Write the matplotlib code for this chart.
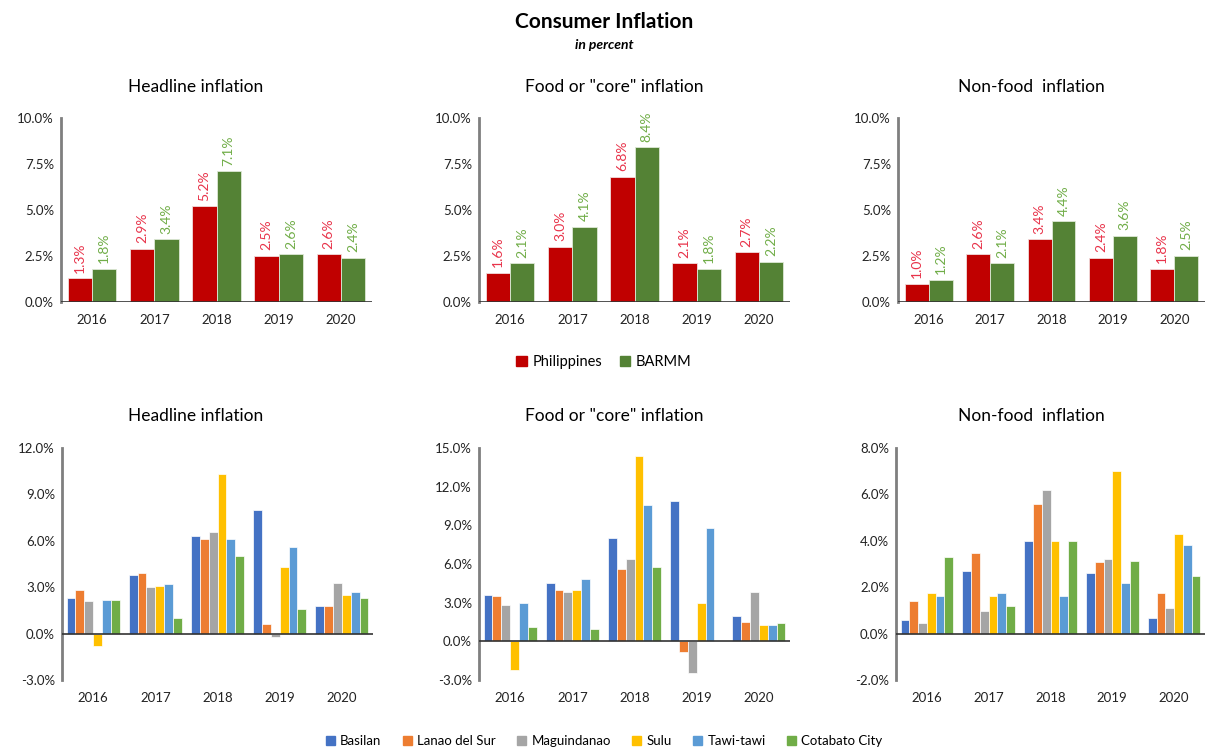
import numpy as np
import matplotlib
matplotlib.use("Agg")
import matplotlib.pyplot as plt
from matplotlib.ticker import FuncFormatter
from matplotlib.patches import Patch

plt.rcParams['font.family'] = ['Lato', 'DejaVu Sans']

years = ["2016", "2017", "2018", "2019", "2020"]

# top row: Philippines vs BARMM
titles = ["Headline inflation", 'Food or "core" inflation', "Non-food  inflation"]
ph_headline = [1.3, 2.9, 5.2, 2.5, 2.6]
barmm_headline = [1.8, 3.4, 7.1, 2.6, 2.4]
ph_food = [1.6, 3.0, 6.8, 2.1, 2.7]
barmm_food = [2.1, 4.1, 8.4, 1.8, 2.2]
ph_nonfood = [1.0, 2.6, 3.4, 2.4, 1.8]
barmm_nonfood = [1.2, 2.1, 4.4, 3.6, 2.5]

# bottom row: provinces
provinces = ["Basilan", "Lanao del Sur", "Maguindanao", "Sulu", "Tawi-tawi", "Cotabato City"]
prov_headline = [
    [2.3, 3.8, 6.3, 8.0, 1.8],
    [2.8, 3.9, 6.1, 0.65, 1.8],
    [2.1, 3.0, 6.6, -0.25, 3.3],
    [-0.8, 3.1, 10.35, 4.3, 2.5],
    [2.2, 3.2, 6.1, 5.6, 2.7],
    [2.2, 1.0, 5.0, 1.6, 2.3],
]
prov_food = [
    [3.6, 4.5, 8.0, 10.9, 2.0],
    [3.5, 4.0, 5.6, -0.8, 1.5],
    [2.85, 3.85, 6.4, -2.45, 3.85],
    [-2.2, 3.95, 14.4, 3.0, 1.3],
    [2.95, 4.8, 10.6, 8.8, 1.3],
    [1.15, 0.95, 5.8, 0.0, 1.4],
]
prov_nonfood = [
    [0.58, 2.7, 4.0, 2.6, 0.68],
    [1.42, 3.48, 5.6, 3.1, 1.76],
    [0.47, 0.99, 6.2, 3.22, 1.09],
    [1.76, 1.61, 4.0, 7.0, 4.3],
    [1.61, 1.76, 1.61, 2.19, 3.8],
    [3.32, 1.21, 4.0, 3.11, 2.5],
]

ph_color = "#C00000"
barmm_color = "#548235"
ph_lab = "#E8334A"
barmm_lab = "#70AD47"
prov_colors = ["#4472C4", "#ED7D31", "#A5A5A5", "#FFC000", "#5B9BD5", "#70AD47"]

W, H = 1208, 751
fig = plt.figure(figsize=(W / 100, H / 100), dpi=100)


def px_axes(x0, y0, x1, y1):
    # pixel box (top-left origin) -> figure axes
    return fig.add_axes([x0 / W, 1 - y1 / H, (x1 - x0) / W, (y1 - y0) / H])


def style(ax, ymin, ymax, step):
    ax.set_ylim(ymin, ymax)
    ax.set_xlim(-0.5, 4.5)
    ax.set_yticks(np.arange(ymin, ymax + step / 2, step))
    ax.yaxis.set_major_formatter(FuncFormatter(lambda v, p: f"{v:.1f}%"))
    ax.set_xticks(range(5))
    ax.set_xticklabels(years)
    ax.tick_params(length=0, labelsize=9.5, colors="#222222")
    ax.tick_params(axis="x", pad=9)
    ax.tick_params(axis="y", pad=5)
    for s in ["top", "right", "bottom"]:
        ax.spines[s].set_visible(False)
    ax.spines["left"].set_color("#7F7F7F")
    ax.spines["left"].set_linewidth(2)
    ax.axhline(0, color="#333333", lw=1.2, zorder=3)
    ax.patch.set_alpha(0)


top_boxes = [(61, 118, 372, 302), (479, 118, 790, 302), (898, 118, 1205, 302)]
bot_boxes = [(62, 448, 373, 680), (479, 448, 790, 680), (896, 448, 1205, 680)]
title_x = [196, 614, 1031]

top_data = [(ph_headline, barmm_headline), (ph_food, barmm_food), (ph_nonfood, barmm_nonfood)]
x = np.arange(len(years))
bw = 0.39
for i, (ph, bm) in enumerate(top_data):
    ax = px_axes(*top_boxes[i])
    ax.bar(x - bw / 2, ph, bw, color=ph_color, edgecolor="#F2DCDC", lw=0.6)
    ax.bar(x + bw / 2, bm, bw, color=barmm_color, edgecolor="#DDE8D5", lw=0.6)
    for xi, v in zip(x, ph):
        ax.text(xi - bw / 2, v + 0.3, f"{v:.1f}%", rotation=90, ha="center", va="bottom",
                fontsize=10, color=ph_lab)
    for xi, v in zip(x, bm):
        ax.text(xi + bw / 2, v + 0.3, f"{v:.1f}%", rotation=90, ha="center", va="bottom",
                fontsize=10, color=barmm_lab)
    style(ax, 0, 10, 2.5)
    fig.text(title_x[i] / W, 1 - 87 / H, titles[i], ha="center", va="center", fontsize=12.5)

bot_data = [prov_headline, prov_food, prov_nonfood]
bot_lims = [(-3, 12, 3), (-3, 15, 3), (-2, 8, 2)]
pw = 0.142
for i, series in enumerate(bot_data):
    ax = px_axes(*bot_boxes[i])
    for j, vals in enumerate(series):
        ax.bar(x + (j - 2.5) * pw, vals, pw, color=prov_colors[j], edgecolor="white", lw=0.5)
    style(ax, *bot_lims[i])
    fig.text(title_x[i] / W, 1 - 416 / H, titles[i], ha="center", va="center", fontsize=12.5)

fig.text(0.5, 1 - 22 / H, "Consumer Inflation", ha="center", va="center",
         fontsize=15, fontweight="bold")
fig.text(0.5, 1 - 45 / H, "in percent", ha="center", va="center",
         fontsize=10, fontweight="bold", style="italic")

fig.legend(handles=[Patch(color=ph_color, label="Philippines"),
                    Patch(color=barmm_color, label="BARMM")],
           loc="center", bbox_to_anchor=(0.5, 1 - 362 / H), ncol=2, frameon=False,
           fontsize=10.5, handlelength=0.7, handleheight=0.7, handletextpad=0.4, columnspacing=1.2)
fig.legend(handles=[Patch(color=c, label=p) for c, p in zip(prov_colors, provinces)],
           loc="center", bbox_to_anchor=(0.5, 1 - 741 / H), ncol=6, frameon=False,
           fontsize=9.5, handlelength=0.7, handleheight=0.7, handletextpad=0.4, columnspacing=1.6)

fig.savefig("out.png", dpi=100)
